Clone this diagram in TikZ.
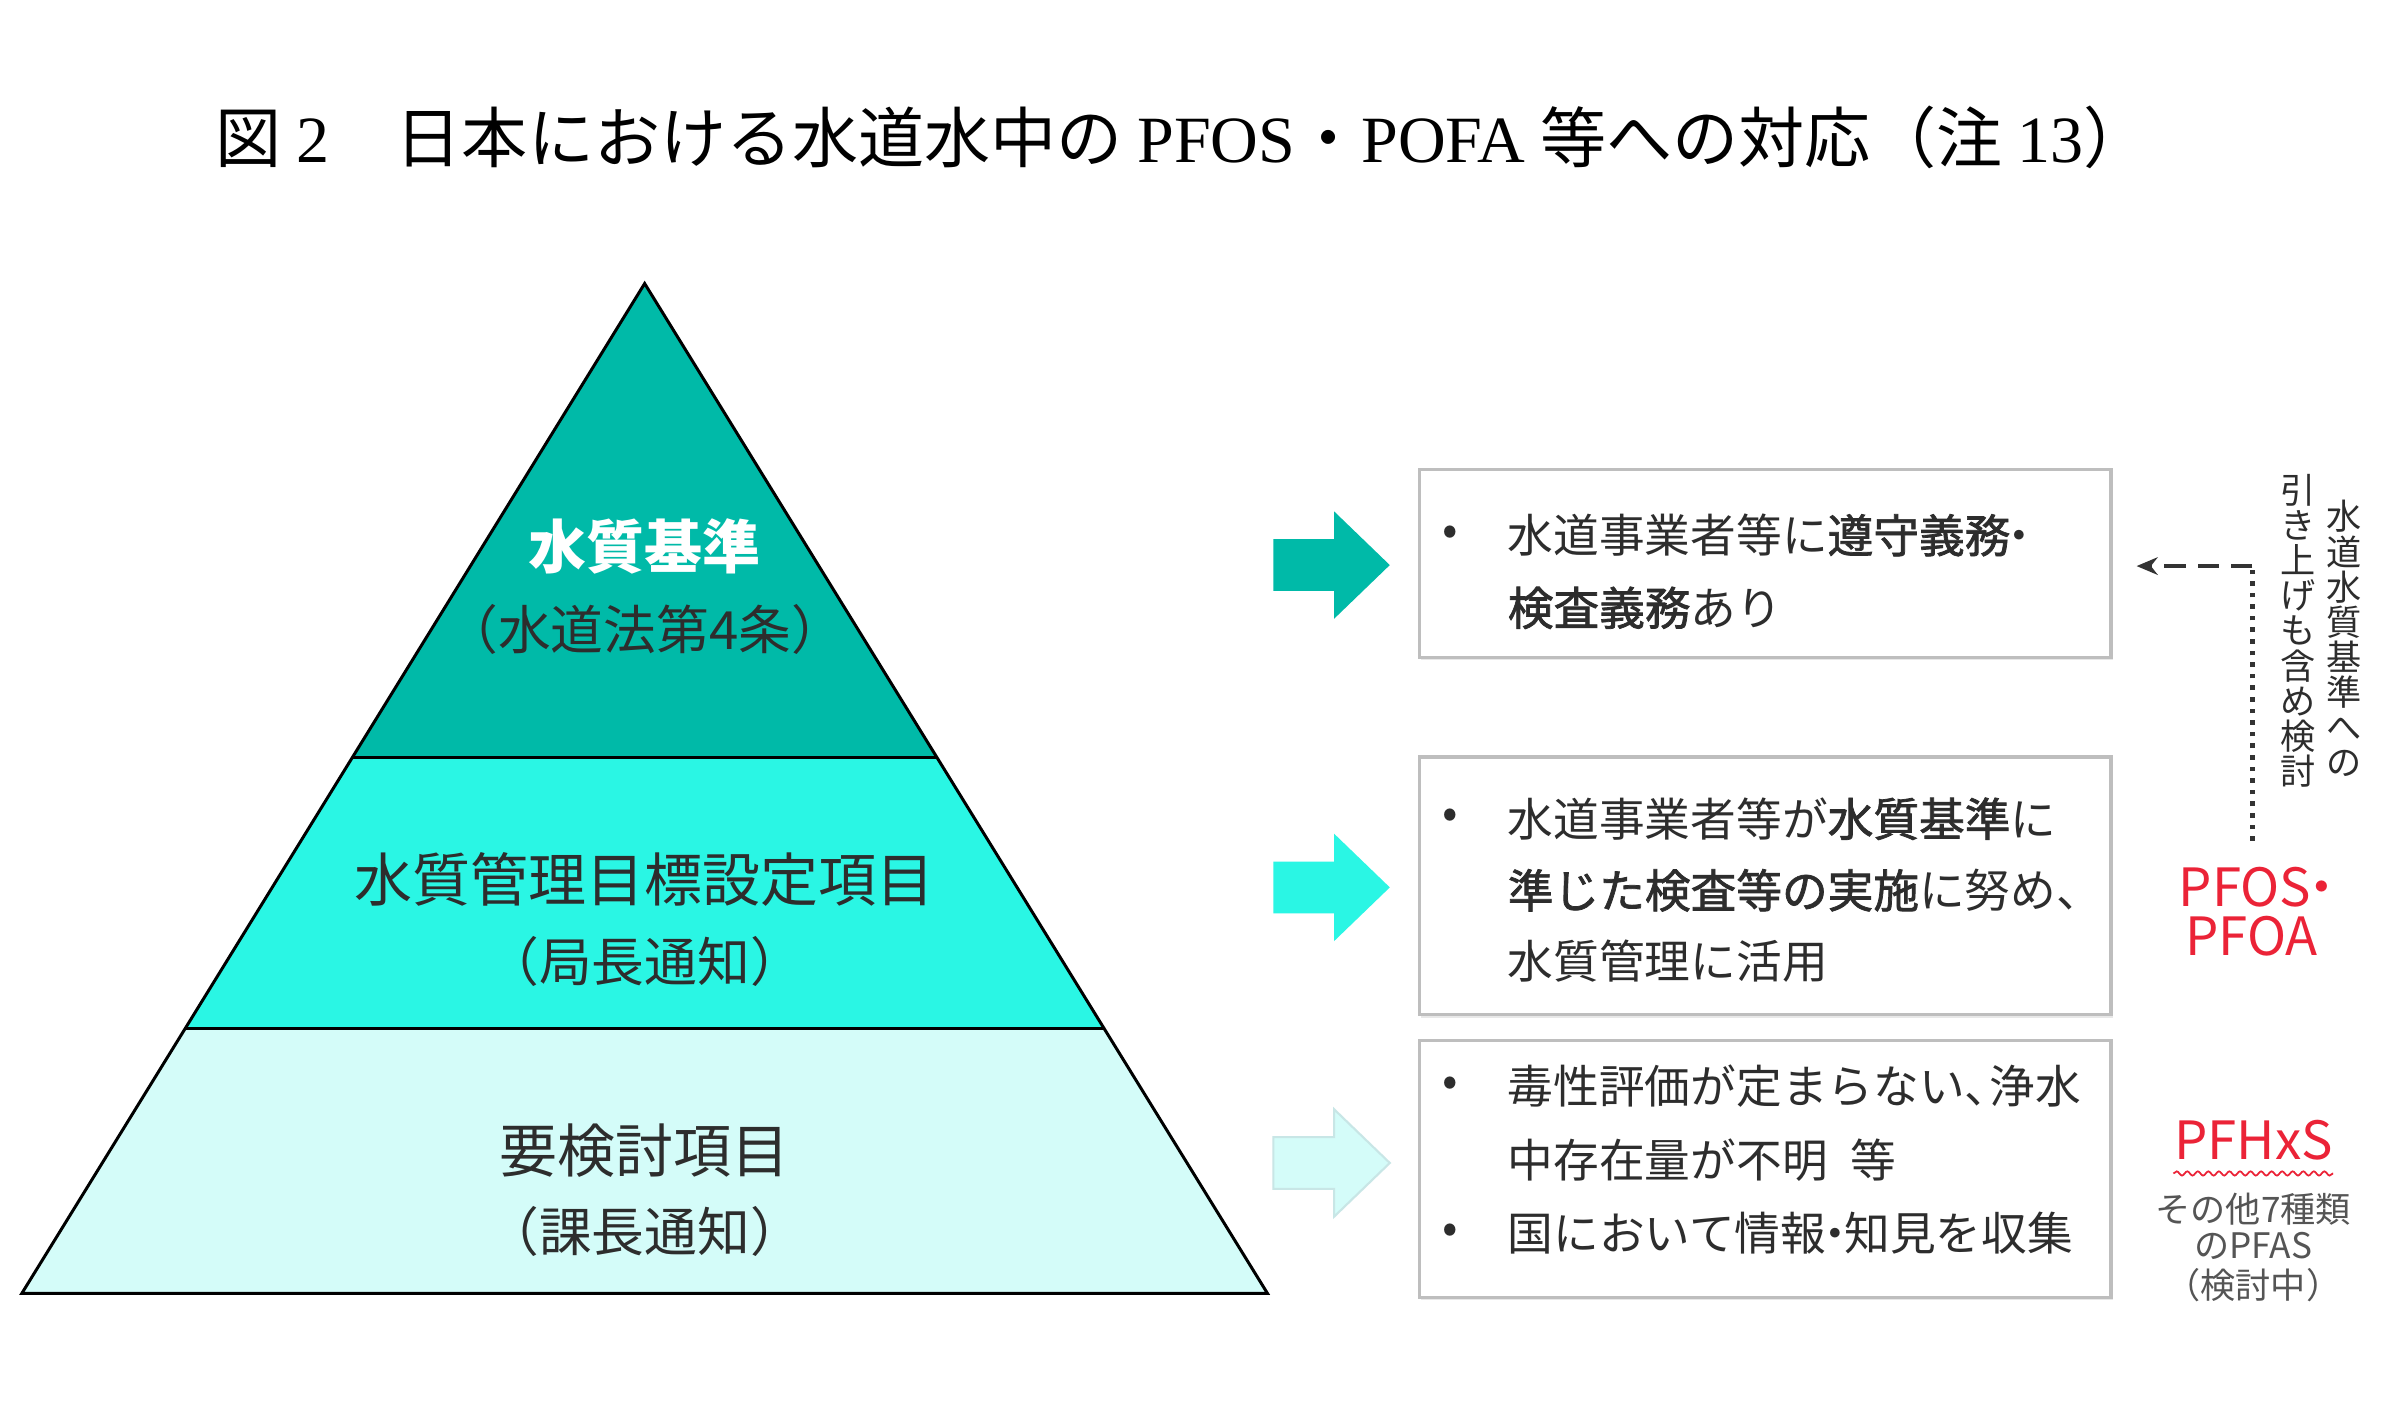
\documentclass[tikz,border=0pt]{standalone}
\usepackage{fontspec}
\setmainfont{Noto Sans CJK JP}
\newfontfamily\serifl{Liberation Serif}
\newfontfamily\semib{Noto Sans CJK JP}[FakeBold=1.6]
\usetikzlibrary{decorations.pathmorphing,arrows.meta,shadows}
\definecolor{tealA}{RGB}{0,186,168}
\definecolor{tealB}{RGB}{42,246,228}
\definecolor{tealC}{RGB}{212,252,249}
\definecolor{tealCline}{RGB}{200,230,230}
\definecolor{txt}{RGB}{45,45,45}
\definecolor{boxline}{RGB}{190,190,190}
\definecolor{redt}{RGB}{235,35,55}
\definecolor{grayt}{RGB}{85,85,85}
\newcommand\fsz[1]{\fontsize{#1}{#1}\selectfont}
\newcommand\blockarr[2]{%
  \path[#2] (1280,#1-26) -- (1341,#1-26) -- (1341,#1-54) -- (1397,#1) -- (1341,#1+54) -- (1341,#1+26) -- (1280,#1+26) -- cycle;}
\newcommand\tten{、\kern-0.45em}
\newcommand\nkt{\kern-0.3em・\kern-0.3em}
\tikzset{
  pyr/.style={draw=black, line width=0.85pt, line join=miter},
  pmain/.style={font=\fsz{16.5}, text=txt, inner sep=0pt},
  psub/.style={font=\fsz{15}, text=txt, inner sep=0pt},
  infobox/.style={draw=boxline, line width=0.9pt, fill=white, inner sep=0pt,
    drop shadow={shadow xshift=0.5pt, shadow yshift=-0.8pt, opacity=0.18}},
  bline/.style={font=\fsz{13}, text=txt, anchor=west, inner sep=0pt},
  bdot/.style={font=\fsz{13}, text=txt, inner sep=0pt},
  redlab/.style={font=\fsz{15}, text=redt, inner sep=0pt},
  graylab/.style={font=\fsz{10}, text=grayt, inner sep=0pt},
  vert/.style={font=\fsz{10}, text=txt, align=center, inner sep=0pt},
}
\begin{document}
\begin{tikzpicture}[x=0.009948cm,y=-0.009948cm]
\useasboundingbox[fill=white] (0,0) rectangle (2412.5,1427.4);
% title
\node[font=\fsz{18.8}, text=black, inner sep=0pt] (title) at (1189,138)
  {図 {\serifl 2}　日本における水道水中の {\serifl PFOS}・{\serifl POFA} 等への対応（注 {\serifl 13}）};
% pyramid
\path[fill=tealA] (648,285) -- (354.4,761) -- (941.6,761) -- cycle;
\path[fill=tealB] (354.4,761) -- (186.1,1034) -- (1109.9,1034) -- (941.6,761) -- cycle;
\path[fill=tealC] (186.1,1034) -- (22,1300) -- (1274,1300) -- (1109.9,1034) -- cycle;
\draw[pyr] (648,285) -- (22,1300) -- (1274,1300) -- cycle;
\draw[pyr] (354.4,761) -- (941.6,761);
\draw[pyr] (186.1,1034) -- (1109.9,1034);
\node[pmain, text=white, font=\fsz{16.5}\bfseries] (t1) at (648,549) {水質基準};
\node[psub] (t1s) at (648,633) {（水道法第4条）};
\node[pmain] (t2) at (648,884) {水質管理目標設定項目};
\node[psub] (t2s) at (648,966) {（局長通知）};
\node[pmain] (t3) at (648,1157) {要検討項目};
\node[psub] (t3s) at (648,1238) {（課長通知）};
% block arrows
\blockarr{568}{fill=tealA}
\blockarr{892}{fill=tealB}
\blockarr{1169}{fill=tealC, draw=tealCline, line width=0.6pt}
% boxes
\node[infobox, minimum width=6.914cm, minimum height=1.88cm] (b1) at (1774.5,566.5) {};
\node[infobox, minimum width=6.914cm, minimum height=2.577cm] (b2) at (1774.5,890.5) {};
\node[infobox, minimum width=6.914cm, minimum height=2.567cm] (b3) at (1774.5,1175) {};
\node[bdot] (d1) at (1458,538) {•};
\node[bline] (l11) at (1515,538) {水道事業者等に{\semib 遵守義務}\nkt};
\node[bline] (l12) at (1515,611) {{\semib 検査義務}あり};
\node[bdot] (d2) at (1458,823) {•};
\node[bline] (l21) at (1515,823) {水道事業者等が{\semib 水質基準}に};
\node[bline] (l22) at (1515,895) {{\semib 準じた検査等の実施}に努め、};
\node[bline] (l23) at (1515,966) {水質管理に活用};
\node[bdot] (d3) at (1458,1092) {•};
\node[bline] (l31) at (1515,1092) {毒性評価が定まらない\tten 浄水};
\node[bline] (l32) at (1515,1166) {中存在量が不明\hspace{0.5em}等};
\node[bdot] (d4) at (1458,1240) {•};
\node[bline] (l33) at (1515,1240) {国において情報\nkt 知見を収集};
% right labels
\node[redlab] (pfos) at (2262,892) {PFOS\kern-0.3em・\kern-0.5em};
\node[redlab] (pfoa) at (2263,941) {PFOA};
\node[redlab] (pfhxs) at (2265,1146) {PFHxS};
\draw[redt, line width=0.5pt, decorate, decoration={snake, amplitude=0.6pt, segment length=3pt}]
  ([yshift=-4pt]pfhxs.base west) -- ([yshift=-4pt]pfhxs.base east);
\node[graylab] (o1) at (2265,1215) {その他7種類};
\node[graylab] (o2) at (2265,1252) {のPFAS};
\node[graylab] (o3) at (2265,1292) {（検討中）};
% vertical text
\node[vert] (v1) at (2356,642) {水\\道\\水\\質\\基\\準\\へ\\の};
\node[vert] (v2) at (2310,634) {引\\き\\上\\げ\\も\\含\\め\\検\\討};
% connector
\coordinate (corner) at (2264,569);
\draw[black!80, line width=1.3pt, dotted] (pfos.north -| corner) ++(0,-26) -- (corner);
\draw[black!80, line width=1.2pt, dash pattern=on 6pt off 3.5pt, -{Stealth[length=6pt,width=5pt]}] (corner) -- ([xshift=0.24cm]b1.east |- corner);
\end{tikzpicture}
\end{document}
